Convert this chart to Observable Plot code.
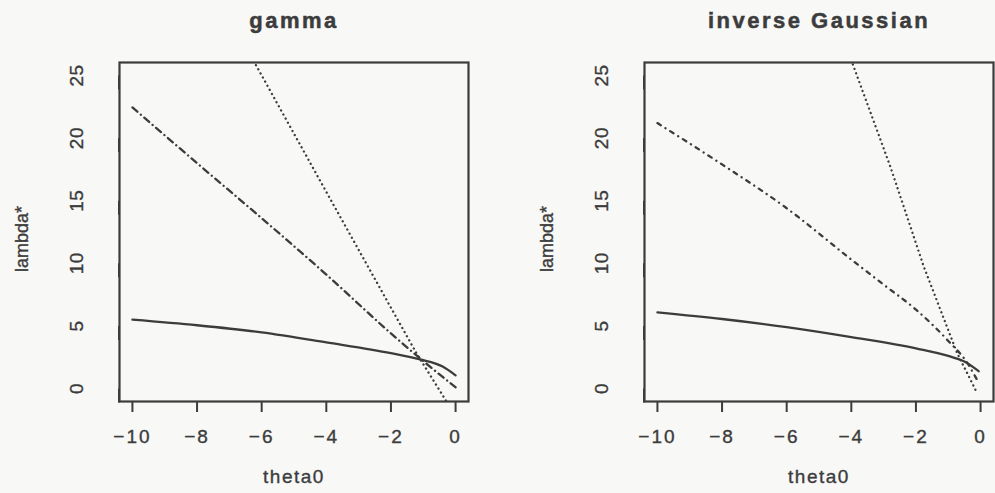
<!DOCTYPE html>
<html><head><meta charset="utf-8">
<script src="https://cdn.jsdelivr.net/npm/d3@7"></script>
<script src="https://cdn.jsdelivr.net/npm/@observablehq/plot@0.6"></script>
<style>
html,body{margin:0;padding:0;background:#f8f8f7;}
#wrap{position:relative;width:995px;height:493px;overflow:hidden;background:#f8f8f7;}
#wrap svg{position:absolute;top:0;}
#wrap text{letter-spacing:1.5px;stroke:#3c3c3c;stroke-width:0.35px;}
#wrap g[aria-label="x-axis tick label"] text{letter-spacing:2px;}
#wrap g[aria-label="y-axis tick label"] text{letter-spacing:0.5px;}
#wrap g.ylab text{letter-spacing:0;}
#wrap g.ptitle text{letter-spacing:2.5px;stroke-width:0.5px;}
</style></head><body><div id="wrap"></div>
<script>
// ---- tick labels / text ----
const xTicks = [-10, -8, -6, -4, -2, 0];
const yTicks = [0, 5, 10, 15, 20, 25];
const panelTitles = ["gamma", "inverse Gaussian"];
const xLabel = "theta0";
const yLabel = "lambda*";

// ---- gamma panel ----
const gammaSolidTheta = [-10, -8, -6, -4, -2, -1.1, -0.4, 0];
const gammaSolidVals  = [5.5, 5.05, 4.48, 3.68, 2.82, 2.32, 1.75, 1.05];
const gammaDashTheta  = [-10, -8, -6, -4, -2, -1.1, 0];
const gammaDashVals   = [22.45, 18.0, 13.6, 9.1, 4.4, 2.4, 0.1];
const gammaDotTheta   = [-6.6, -6.17, -4, -2, -1.2, -0.33, 0];
const gammaDotVals    = [27.8, 25.8, 15.7, 6.45, 2.77, -0.83, -2.2];

// ---- inverse Gaussian panel ----
const igSolidTheta = [-10, -8, -6, -4, -2, -1, -0.5, -0.06];
const igSolidVals  = [6.08, 5.55, 4.9, 4.1, 3.2, 2.6, 2.15, 1.38];
const igDashTheta  = [-10, -8, -6, -4, -3, -2, -1, -0.4, -0.1];
const igDashVals   = [21.2, 17.9, 14.4, 10.3, 8.3, 6.3, 3.8, 2.0, 0.65];
const igDotTheta   = [-4.15, -3.94, -2.79, -1.76, -0.73, -0.12];
const igDotVals    = [27.3, 25.8, 17.7, 9.75, 2.85, -0.3];

const pts = (t, v) => t.map((x, i) => ({x, y: v[i]}));
const ink = "#3c3c3c";

function panel(title, solid, dash, dot, dashPattern) {
  return Plot.plot({
    width: 470, height: 493,
    marginLeft: 119, marginRight: 2, marginTop: 62, marginBottom: 92,
    style: {fontFamily: "'Liberation Sans', Arial, Helvetica, sans-serif", fontSize: "19px", background: "transparent", color: ink},
    x: {domain: [-10.4, 0.4]},
    y: {domain: [-1.04, 26.04]},
    marks: [
      Plot.line(solid, {x: "x", y: "y", stroke: ink, strokeWidth: 2.3, clip: true, curve: "monotone-x"}),
      Plot.line(dash, {x: "x", y: "y", stroke: ink, strokeWidth: 2.3, strokeDasharray: dashPattern, strokeLinecap: "round", clip: true, curve: "monotone-x"}),
      Plot.line(dot, {x: "x", y: "y", stroke: ink, strokeWidth: 2.3, strokeDasharray: "0.1,4.6", strokeLinecap: "round", clip: true}),
      Plot.frame({stroke: ink, strokeWidth: 2.2}),
      Plot.axisX({ticks: xTicks, tickSize: 11, tickPadding: 17, strokeWidth: 2, fontSize: 19, color: ink,
        tickFormat: d => (d < 0 ? "\u2212" + Math.abs(d) : String(d)), label: null}),
      Plot.axisY({ticks: yTicks, tickSize: 14, tickPadding: 29, strokeWidth: 2, fontSize: 19, color: ink,
        rotate: -90, textAnchor: "middle", lineAnchor: "middle", label: null}),
      Plot.text([title], {text: d => d, frameAnchor: "top", dy: -35, lineAnchor: "bottom", fontSize: 22, fontWeight: "bold", fill: ink, className: "ptitle"}),
      Plot.text([xLabel], {text: d => d, frameAnchor: "bottom", dy: 81, lineAnchor: "bottom", fontSize: 19, fill: ink}),
      Plot.text([yLabel], {text: d => d, frameAnchor: "left", dx: -97, dy: 7, rotate: -90, textAnchor: "middle", lineAnchor: "middle", fontSize: 18, fill: ink, className: "ylab"})
    ]
  });
}

const wrap = document.getElementById("wrap");
const p1 = panel(panelTitles[0], pts(gammaSolidTheta, gammaSolidVals), pts(gammaDashTheta, gammaDashVals), pts(gammaDotTheta, gammaDotVals), "6.5,4.5,0.1,4.5");
p1.style.left = "0px";
const p2 = panel(panelTitles[1], pts(igSolidTheta, igSolidVals), pts(igDashTheta, igDashVals), pts(igDotTheta, igDotVals), "4,5.5,0.1,5.5");
p2.style.left = "525px";
wrap.appendChild(p1);
wrap.appendChild(p2);
</script></body></html>
